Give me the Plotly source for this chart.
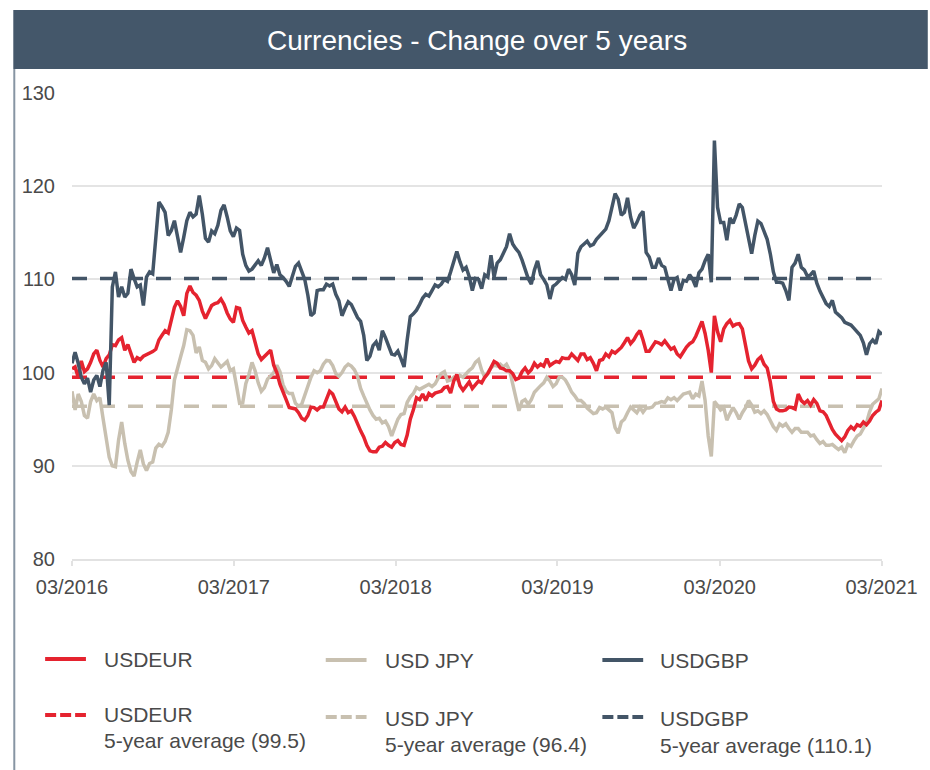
import pandas as pd
import plotly.graph_objects as go

# Weekly observations, rebased index values
dates = pd.date_range("2016-03-01", periods=262, freq="7D")

usdeur = [
    100.4, 100.6, 99.5, 101.25, 100.1, 100.4, 101.1, 102.0, 102.4, 101.3,
    100.6, 101.5, 101.9, 103.0, 102.9, 103.5, 103.75, 102.4, 103.0, 102.1,
    101.1, 101.6, 101.4, 101.75, 101.9, 102.0, 102.25, 102.5, 103.5, 104.0,
    104.5, 104.25, 105.6, 107.0, 107.7, 107.1, 106.1, 108.5, 109.3, 108.6,
    108.3, 107.75, 106.6,
    105.8, 106.5, 107.2, 107.4, 107.5, 107.9, 107.3, 106.4, 105.75, 105.4,
    107.0, 106.9, 105.6, 104.9, 104.25, 104.5, 103.1, 102.0, 101.4, 101.75,
    102.0, 102.4, 100.8, 100.0, 98.75, 98.0, 97.1, 96.25, 96.2, 96.1,
    95.7, 95.1, 94.9, 95.4, 96.3, 96.25, 96.0, 96.3, 96.3, 97.2,
    98.0, 97.7, 96.8, 96.1, 95.8,
    96.3, 95.7, 95.9, 95.3, 94.4, 93.75, 93.1, 92.2, 91.6, 91.5,
    91.5, 92.0, 92.1, 92.5, 92.2, 92.0, 92.5, 92.7, 92.3, 92.2,
    93.3, 95.0, 96.0, 97.3, 97.1, 97.7, 97.0, 97.75, 97.5, 97.8,
    97.9, 98.0, 98.4, 98.5, 97.8, 99.1, 99.8, 98.6, 98.1, 98.5,
    99.0, 98.3, 98.75, 99.1, 98.9,
    99.5, 99.9, 100.5, 101.2, 101.0, 100.5, 100.4, 100.2, 100.2, 99.9,
    99.25, 99.4, 100.1, 100.5, 99.96, 100.3, 101.0, 100.6, 100.9, 100.7,
    101.5, 100.75, 101.0, 101.2, 101.1, 101.6, 101.5, 101.5, 102.0, 101.6,
    101.3, 102.0, 102.0, 101.4, 101.6, 101.0, 100.2, 101.3, 101.4, 102.0,
    101.7, 102.3, 102.1, 102.4, 102.7,
    103.2, 103.75, 103.1, 103.5, 104.1, 104.5, 103.5, 102.3, 102.3, 102.75,
    103.3, 103.2, 103.0, 103.4, 103.0, 102.5, 102.7, 102.0, 101.7, 102.3,
    102.75, 103.1, 103.3, 103.9, 104.8, 105.5, 104.2, 102.4, 100.0, 106.1,
    104.4, 103.3, 104.7, 105.25, 105.6, 105.0, 105.2, 105.25, 104.7, 102.9,
    101.25, 100.4, 100.8, 101.4, 101.7,
    100.9, 100.5, 99.0, 96.9, 96.1, 95.9, 95.9, 96.0, 96.3, 96.25,
    96.1, 97.7, 97.0, 96.7, 97.0, 96.5, 97.1, 96.7, 95.9, 95.8,
    95.4, 94.6, 93.9, 93.4, 93.0, 92.7, 93.1, 93.8, 94.2, 93.9,
    94.4, 94.25, 94.7, 94.4, 94.8, 95.4, 95.75, 96.0, 97.0,
]

usdjpy = [
    98.0, 96.0, 97.7, 96.9, 95.4, 95.1, 96.9, 97.7, 97.0, 97.3,
    95.1, 93.1, 90.9, 90.0, 89.9, 92.75, 94.7, 92.4, 90.6, 89.4,
    88.9, 90.4, 91.7, 90.2, 89.5, 90.25, 90.4, 91.9, 92.3, 92.1,
    92.6, 93.6, 96.0, 99.2, 100.6, 101.7, 102.9, 104.6, 104.5, 104.0,
    102.1, 102.75, 101.3,
    101.1, 100.4, 100.75, 101.5, 101.0, 100.6, 100.9, 101.2, 100.2, 100.4,
    98.6, 96.7, 96.75, 98.8, 99.8, 101.1, 100.2, 98.9, 98.0, 98.4,
    99.3, 99.7, 100.0, 100.8, 100.1, 98.7, 98.0, 97.75, 97.75, 96.7,
    96.4, 96.6, 97.6, 98.5, 99.5, 100.2, 100.0, 100.2, 100.9, 101.3,
    101.25, 100.75, 99.9, 99.6, 100.0,
    100.6, 100.9, 100.7, 100.3, 99.6, 98.3, 97.5, 96.7, 96.0, 95.4,
    95.0, 95.1, 94.6, 94.8, 94.2, 93.2, 94.25, 95.0, 95.5, 95.6,
    96.8, 97.4, 97.75, 98.4, 98.2, 98.4, 98.5, 98.75, 98.5, 98.8,
    99.4, 99.9, 100.1, 99.1, 99.2, 99.5, 99.25, 99.7, 99.5, 99.9,
    100.25, 100.5, 101.1, 101.4, 100.25,
    99.5, 100.0, 100.5, 100.8, 100.7, 100.9, 100.6, 100.9, 100.25, 98.8,
    97.5, 95.9, 96.9, 97.1, 96.6, 97.1, 97.9, 98.3, 98.6, 98.9,
    99.5, 99.1, 98.5, 98.8, 99.5, 99.5, 99.2, 98.6, 97.9, 97.5,
    97.0, 97.0, 96.7, 96.2, 95.9, 95.6, 95.7, 96.25, 96.1, 96.3,
    96.0, 95.7, 94.1, 93.5, 94.7,
    95.0, 95.7, 96.3, 96.0, 95.7, 96.25, 95.75, 96.2, 96.2, 96.3,
    96.7, 96.75, 96.9, 96.8, 97.3, 97.1, 97.3, 97.0, 97.4, 97.7,
    97.8, 97.9, 97.2, 97.7, 97.5, 99.1, 97.0, 93.2, 91.0, 96.9,
    96.5, 96.0, 96.25, 94.9, 95.6, 96.25, 95.7, 95.0, 95.7, 96.2,
    97.0, 96.5, 95.75, 95.9, 95.6,
    95.9, 95.5, 94.8, 94.2, 93.8, 94.5, 94.25, 94.5, 94.0, 93.6,
    94.0, 94.0, 93.6, 93.6, 93.6, 93.2, 93.3, 92.8, 92.4, 92.6,
    92.2, 92.2, 92.3, 92.0, 91.75, 92.0, 91.4, 92.3, 92.1, 92.7,
    93.2, 93.4, 94.0, 94.6, 95.8, 96.6, 96.9, 97.2, 98.3,
]

usdgbp = [
    101.0, 102.2, 101.0, 99.5, 98.8, 99.4, 97.9, 99.2, 99.7, 98.5,
    100.25, 101.1, 96.5, 109.2, 110.8, 108.1, 109.2, 108.1, 108.5, 111.1,
    110.1, 109.2, 109.4, 107.2, 110.25, 110.8, 110.6, 114.2, 118.3, 117.8,
    117.2, 114.7, 115.25, 116.3, 114.7, 112.9, 114.5, 116.3, 117.2, 116.7,
    117.0, 119.0, 117.0,
    114.4, 114.0, 115.2, 114.9, 115.8, 117.4, 118.0, 116.7, 115.2, 114.6,
    115.5, 115.25, 112.7, 111.5, 110.9, 111.1, 111.6, 112.0, 111.5, 112.3,
    113.4, 112.0, 110.7, 111.6, 110.5, 110.2, 109.8, 109.25, 110.25, 111.4,
    111.75, 110.8, 110.0, 108.3, 106.1, 106.4, 108.8, 108.9, 108.9, 109.5,
    109.3, 109.5, 108.4, 107.7, 106.1,
    106.9, 107.6, 107.3, 106.6, 105.9, 105.5, 104.0, 101.3, 101.75, 102.9,
    103.3, 102.4, 104.5, 103.75, 102.75, 102.0, 101.9, 102.3, 101.5, 100.6,
    103.5, 106.0, 106.3, 106.7, 107.3, 108.0, 108.4, 108.2, 108.8, 109.4,
    109.2, 109.5, 110.0, 109.8, 110.8, 111.9, 113.0, 111.9, 111.0, 111.3,
    110.3, 108.8, 110.1, 110.0, 109.0,
    110.5, 110.25, 112.6, 110.25, 111.75, 112.1, 112.8, 113.5, 114.9, 113.8,
    113.3, 112.9, 112.1, 111.2, 110.1, 109.5, 111.0, 112.0, 110.5, 110.0,
    109.4, 107.9, 109.25, 109.5, 109.9, 110.2, 110.0, 111.1, 110.5, 109.4,
    112.8, 113.5, 113.8, 114.1, 113.6, 113.75, 114.3, 114.7, 115.1, 115.4,
    116.3, 117.6, 119.2, 118.6, 116.9,
    117.2, 118.75, 116.7, 115.5, 116.1, 116.9, 117.3, 112.9, 112.4, 111.3,
    111.3, 112.3, 111.5, 111.3, 110.0, 108.8, 110.0, 110.2, 108.8, 109.9,
    109.8, 110.5, 110.0, 109.2, 110.7, 111.1, 112.0, 112.7, 109.7, 124.9,
    117.75, 116.1, 116.1, 114.2, 116.6, 116.0, 116.9, 118.1, 117.7, 116.0,
    114.7, 112.75, 114.7, 116.25, 116.0,
    115.1, 114.3, 112.75, 110.8, 109.7, 109.7, 109.6, 108.8, 107.75, 111.3,
    111.75, 112.7, 111.3, 111.0, 110.3, 110.5, 110.9, 109.6, 108.75, 108.1,
    107.4, 107.1, 107.75, 106.5, 106.25, 105.9, 105.4, 105.25, 105.1, 104.75,
    104.4, 104.0, 103.2, 101.9, 103.1, 103.5, 103.1, 104.4, 104.1,
]

series_names = ["USDEUR", "USD JPY", "USDGBP"]
averages = [99.5, 96.4, 110.1]
tick_dates = ["2016-03-01", "2017-03-01", "2018-03-01", "2019-03-01", "2020-03-01", "2021-03-01"]
tick_labels = ["03/2016", "03/2017", "03/2018", "03/2019", "03/2020", "03/2021"]

RED = "#e5232f"
BEIGE = "#c8c0b0"
SLATE = "#435567"
TEXT = "#4a4a4a"
FONT = "Liberation Sans, Arial, sans-serif"
colors = [RED, BEIGE, SLATE]
values = [usdeur, usdjpy, usdgbp]

W, H = 930, 770
L, R, T, B = 72, 44, 93, 211
PW, PH = W - L - R, H - T - B


def px(x):
    return (x - L) / PW


def py(y):
    return (H - B - y) / PH


fig = go.Figure()

# 5-year averages as dashed reference lines
for avg, col in zip(averages, colors):
    fig.add_trace(go.Scatter(
        x=[dates[0], dates[-1]], y=[avg, avg], mode="lines",
        line=dict(color=col, width=3.5, dash="15px,13px"),
        hoverinfo="skip", showlegend=False,
    ))

# currency series: JPY underneath, GBP on top
for idx in (1, 0, 2):
    fig.add_trace(go.Scatter(
        x=dates, y=values[idx], mode="lines", name=series_names[idx],
        line=dict(color=colors[idx], width=3.5), showlegend=False,
    ))

shapes = [
    # header bar
    dict(type="rect", xref="paper", yref="paper", x0=px(13), x1=px(932),
         y0=py(69), y1=py(10), fillcolor="#44576a", line=dict(width=0), layer="above"),
    # left frame rule
    dict(type="line", xref="paper", yref="paper", x0=px(14), x1=px(14),
         y0=py(69), y1=py(772), line=dict(color="#8795a3", width=2)),
]

annotations = [
    dict(text="Currencies - Change over 5 years", xref="paper", yref="paper",
         x=px(479), y=py(40), xanchor="center", yanchor="middle", showarrow=False,
         font=dict(family=FONT, size=28, color="white")),
]

# legend: solid series on the first row, averages with two-line labels on the second
col_sym = [45, 327, 605]
col_txt = [102, 385, 661]
row1_y = [659, 660, 660]
row2_sym = [715, 717, 717]
row2_t1 = [714, 718, 718]
row2_t2 = [740, 744, 745]
for i in range(3):
    shapes.append(dict(type="line", xref="paper", yref="paper",
                       x0=px(col_sym[i]), x1=px(col_sym[i] + 41),
                       y0=py(row1_y[i]), y1=py(row1_y[i]),
                       line=dict(color=colors[i], width=4)))
    shapes.append(dict(type="line", xref="paper", yref="paper",
                       x0=px(col_sym[i]), x1=px(col_sym[i] + 41),
                       y0=py(row2_sym[i]), y1=py(row2_sym[i]),
                       line=dict(color=colors[i], width=4, dash="11px,4px")))
    annotations.append(dict(text=series_names[i], xref="paper", yref="paper",
                            x=px(col_txt[i]), y=py(row1_y[i]), xanchor="left", yanchor="middle",
                            showarrow=False, font=dict(family=FONT, size=21, color=TEXT)))
    annotations.append(dict(text=series_names[i], xref="paper", yref="paper",
                            x=px(col_txt[i]), y=py(row2_t1[i]), xanchor="left", yanchor="middle",
                            showarrow=False, font=dict(family=FONT, size=21, color=TEXT)))
    annotations.append(dict(text=f"5-year average ({averages[i]})", xref="paper", yref="paper",
                            x=px(col_txt[i]), y=py(row2_t2[i]), xanchor="left", yanchor="middle",
                            showarrow=False, font=dict(family=FONT, size=21, color=TEXT)))

fig.update_layout(
    width=W, height=H,
    margin=dict(l=L, r=R, t=T, b=B, pad=0),
    paper_bgcolor="white", plot_bgcolor="white",
    font=dict(family=FONT, size=20, color=TEXT),
    shapes=shapes, annotations=annotations,
    showlegend=False,
    xaxis=dict(
        type="date", range=[dates[0], dates[-1]],
        tickmode="array", tickvals=tick_dates, ticktext=tick_labels,
        showgrid=False, zeroline=False,
        showline=True, linecolor="#e2e2e2", linewidth=2,
        ticks="outside", ticklen=5, tickwidth=2, tickcolor="#e2e2e2",
        tickfont=dict(family=FONT, size=20, color=TEXT),
        ticklabelstandoff=4,
    ),
    yaxis=dict(
        range=[80, 130], tick0=80, dtick=10,
        showgrid=True, gridcolor="#e4e4e4", gridwidth=2,
        zeroline=False, showline=False, ticks="",
        tickfont=dict(family=FONT, size=20, color=TEXT),
        ticklabelstandoff=16,
    ),
)

fig.write_html("out.html")
